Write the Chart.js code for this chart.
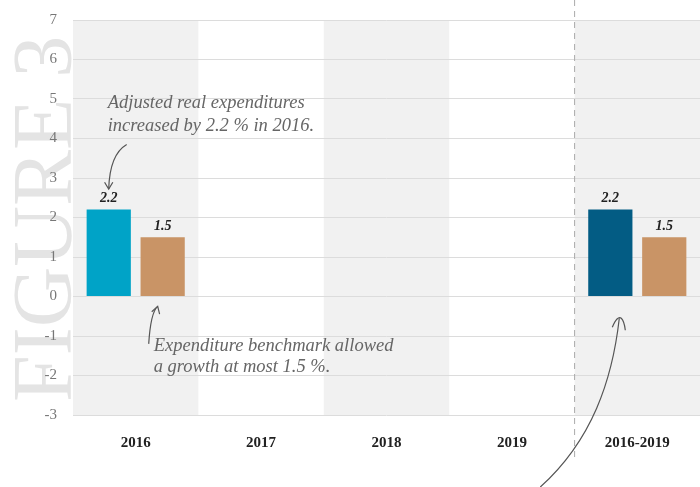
<!DOCTYPE html>
<html><head><meta charset="utf-8">
<script src="https://cdn.jsdelivr.net/npm/chart.js@4"></script>
<style>html,body{margin:0;padding:0;background:#fff}#wrap{width:700px;height:487px;position:relative}</style>
</head><body><div id="wrap"><canvas id="c" width="700" height="487"></canvas></div>
<script>
const categories = ['2016', '2017', '2018', '2019', '2016-2019'];
const adjustedExpenditures = [2.2, null, null, null, 2.2];
const expenditureBenchmark = [1.5, null, null, null, 1.5];
const yTicks = [-3, -2, -1, 0, 1, 2, 3, 4, 5, 6, 7];
const annotationTop = ['Adjusted real expenditures', 'increased by 2.2 % in 2016.'];
const annotationBottom = ['Expenditure benchmark allowed', 'a growth at most 1.5 %.'];

const SERIF = '"Liberation Serif", "DejaVu Serif", serif';

function arrowHead(ctx, x, y, angle, size) {
  ctx.beginPath();
  ctx.moveTo(x + Math.cos(angle + 2.6) * size, y + Math.sin(angle + 2.6) * size);
  ctx.lineTo(x, y);
  ctx.lineTo(x + Math.cos(angle - 2.6) * size, y + Math.sin(angle - 2.6) * size);
  ctx.stroke();
}

const decor = {
  id: 'decor',
  beforeDraw(chart) {
    const {ctx, chartArea: a, scales: {x, y}} = chart;
    ctx.save();
    // watermark
    ctx.fillStyle = '#e4e4e4';
    ctx.font = '84px ' + SERIF;
    ctx.translate(71, 402);
    ctx.rotate(-Math.PI / 2);
    ctx.textBaseline = 'alphabetic';
    ctx.fillText('FIGURE 3', 0, 0);
    ctx.restore();
    ctx.save();
    // bands
    const w = x.getPixelForValue(1) - x.getPixelForValue(0);
    ctx.fillStyle = 'rgba(236,236,236,0.75)';
    [0, 2, 4].forEach(i => {
      const cx = x.getPixelForValue(i);
      ctx.fillRect(cx - w / 2, a.top, w, a.bottom - a.top);
    });
    ctx.restore();
  },
  afterDraw(chart) {
    const {ctx, chartArea: a, scales: {x, y}} = chart;
    const w = x.getPixelForValue(1) - x.getPixelForValue(0);
    ctx.save();
    // dashed separator
    const sx = x.getPixelForValue(3) + w / 2;
    ctx.strokeStyle = '#aaa';
    ctx.lineWidth = 1;
    ctx.setLineDash([6, 5]);
    ctx.beginPath();
    ctx.moveTo(sx, 0);
    ctx.lineTo(sx, a.bottom + 45);
    ctx.stroke();
    ctx.setLineDash([]);

    // annotations text
    ctx.fillStyle = '#666';
    ctx.font = 'italic 18.5px ' + SERIF;
    ctx.textBaseline = 'alphabetic';
    ctx.textAlign = 'left';
    const x0 = x.getPixelForValue(0);
    ctx.fillText(annotationTop[0], x0 - 28, y.getPixelForValue(4.78));
    ctx.fillText(annotationTop[1], x0 - 28, y.getPixelForValue(4.18));
    ctx.fillText(annotationBottom[0], x0 + 18, y.getPixelForValue(-1.37));
    ctx.fillText(annotationBottom[1], x0 + 18, y.getPixelForValue(-1.9));

    // arrows
    ctx.strokeStyle = '#555';
    ctx.lineWidth = 1.2;
    // arrow 1 (down to blue bar)
    let ex = x0 - 27, ey = y.getPixelForValue(2.72);
    ctx.beginPath();
    ctx.moveTo(x0 - 9, y.getPixelForValue(3.85));
    ctx.quadraticCurveTo(x0 - 26, y.getPixelForValue(3.6), ex, ey);
    ctx.stroke();
    arrowHead(ctx, ex, ey, Math.PI / 2, 8);
    // arrow 2 (up to orange bar)
    ex = x0 + 22; ey = y.getPixelForValue(-0.25);
    ctx.beginPath();
    ctx.moveTo(x0 + 13, y.getPixelForValue(-1.2));
    ctx.quadraticCurveTo(x0 + 15, y.getPixelForValue(-0.4), ex, ey);
    ctx.stroke();
    arrowHead(ctx, ex, ey, -Math.PI / 2 + 0.3, 8);
    // arrow 3 (big curve to 2016-2019)
    const x4 = x.getPixelForValue(4);
    ex = x4 - 18; ey = y.getPixelForValue(-0.55);
    ctx.beginPath();
    ctx.moveTo(x4 - 97, 487);
    ctx.bezierCurveTo(x4 - 45, 440, x4 - 25, 380, ex, ey);
    ctx.stroke();
    ctx.beginPath();
    ctx.moveTo(ex - 7, ey + 9);
    ctx.quadraticCurveTo(ex - 2, ey - 3, ex + 2, ey);
    ctx.quadraticCurveTo(ex + 5, ey + 3, ex + 6, ey + 12);
    ctx.stroke();

    // value labels
    ctx.fillStyle = '#222';
    ctx.font = 'bold italic 14px ' + SERIF;
    ctx.textAlign = 'center';
    ctx.textBaseline = 'bottom';
    chart.data.datasets.forEach((ds, di) => {
      const meta = chart.getDatasetMeta(di);
      meta.data.forEach((bar, i) => {
        const v = ds.data[i];
        if (v == null) return;
        ctx.fillText(v.toFixed(1), bar.x, bar.y - 4);
      });
    });
    ctx.restore();
  }
};

new Chart(document.getElementById('c'), {
  type: 'bar',
  data: {
    labels: categories,
    datasets: [
      {
        label: 'Adjusted real expenditures',
        data: adjustedExpenditures,
        backgroundColor: ['#00a3c7', '#00a3c7', '#00a3c7', '#00a3c7', '#035c84'],
        barPercentage: 0.82,
        categoryPercentage: 0.86
      },
      {
        label: 'Expenditure benchmark',
        data: expenditureBenchmark,
        backgroundColor: '#c99466',
        barPercentage: 0.82,
        categoryPercentage: 0.86
      }
    ]
  },
  options: {
    responsive: false,
    animation: false,
    layout: {padding: {top: 20, right: 0, left: 0, bottom: 0}},
    plugins: {legend: {display: false}, tooltip: {enabled: false}},
    scales: {
      x: {
        grid: {display: false, drawTicks: false},
        border: {display: false},
        ticks: {color: '#222', font: {family: SERIF, size: 15, weight: 'bold'}, padding: 19},
        afterFit(s) { s.height = 72; }
      },
      y: {
        min: -3, max: 7,
        afterBuildTicks(s) { s.ticks = yTicks.map(v => ({value: v})); },
        grid: {color: '#dcdcdc', drawTicks: false},
        border: {display: false},
        ticks: {color: '#777', font: {family: SERIF, size: 15}, padding: 16, callback: v => String(v)},
        afterFit(s) { s.width = 73; s.paddingTop = 0; s.paddingBottom = 0; }
      }
    }
  },
  plugins: [decor]
});
</script></body></html>
